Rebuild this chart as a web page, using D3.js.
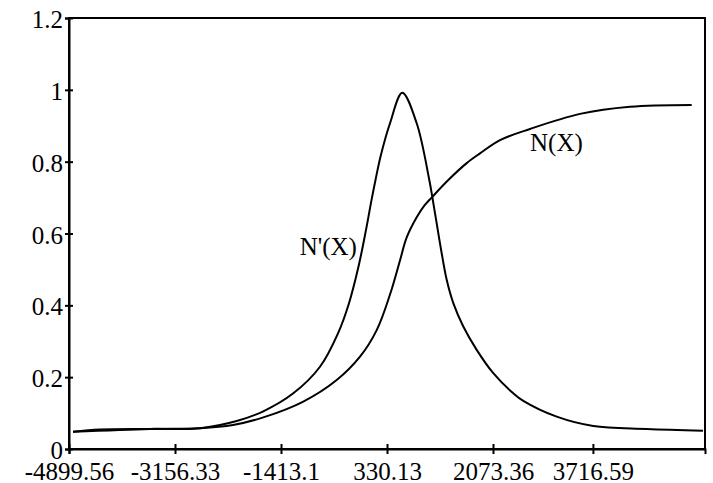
<!DOCTYPE html>
<html>
<head>
<meta charset="utf-8">
<script src="https://cdn.jsdelivr.net/npm/d3@7"></script>
<style>
  body { margin: 0; background: #fff; }
  svg text { font-family: "Liberation Serif", "Times New Roman", Times, serif; font-size: 25px; fill: #000; }
</style>
</head>
<body>
<div id="chart"></div>
<script>
// x tick values shown on the bottom axis
const xTicks = [-4899.56, -3156.33, -1413.1, 330.13, 2073.36, 3716.59];
const xDomain = [-4899.56, 5559.82];
const yTicks = [0, 0.2, 0.4, 0.6, 0.8, 1, 1.2];

// N'(X) - peaked curve
const densX = [-4833.8, -4389.8, -3567.5, -2745.2, -2141.7, -1704.2, -1210.9, -771.8, -475.7, -294.8, -138.6, -15.3, 75.2, 141.0, 223.2, 379.5, 581.8, 818.5, 1025.7, 1075.0, 1147.4, 1229.6, 1311.9, 1420.4, 1584.8, 1805.2, 2078.2, 2407.1, 2571.7, 3121.0, 3722.8, 4601.0, 5526.9];
const densY = [0.048, 0.054, 0.056, 0.058, 0.078, 0.105, 0.155, 0.229, 0.322, 0.406, 0.508, 0.610, 0.693, 0.749, 0.814, 0.907, 0.992, 0.907, 0.749, 0.702, 0.628, 0.545, 0.471, 0.406, 0.341, 0.276, 0.211, 0.155, 0.134, 0.090, 0.064, 0.056, 0.051];

// N(X) - cumulative curve
const cumX = [-4833.8, -3567.5, -2745.2, -2202.5, -1704.2, -1046.4, -497.1, -113.9, 160.8, 379.4, 543.9, 654.1, 818.5, 946.8, 1075.0, 1338.2, 1640.8, 1859.5, 2188.4, 2681.8, 3504.1, 4326.3, 5340.9];
const cumY = [0.048, 0.056, 0.058, 0.067, 0.088, 0.132, 0.192, 0.257, 0.331, 0.430, 0.525, 0.589, 0.645, 0.678, 0.702, 0.749, 0.796, 0.823, 0.860, 0.891, 0.933, 0.953, 0.958];

const labels = [
  { text: "N'(X)", x: -165, y: 0.54, anchor: "end" },
  { text: "N(X)", x: 2682, y: 0.83, anchor: "start" }
];

const width = 713, height = 483;
const margin = { top: 18, right: 8, bottom: 34, left: 69 };
const innerW = width - margin.left - margin.right;
const innerH = height - margin.top - margin.bottom;

const svg = d3.select("#chart").append("svg").attr("width", width).attr("height", height);
const g = svg.append("g").attr("transform", `translate(${margin.left},${margin.top})`);

const x = d3.scaleLinear().domain(xDomain).range([0, innerW]);
const y = d3.scaleLinear().domain([0, 1.2]).range([innerH, 0]);

// frame
g.append("rect")
  .attr("width", innerW)
  .attr("height", innerH)
  .attr("fill", "none")
  .attr("stroke", "#000")
  .attr("stroke-width", 2);

// bottom axis
const xAxis = g.append("g")
  .attr("transform", `translate(0,${innerH})`)
  .call(d3.axisBottom(x).tickValues(xTicks).tickFormat((d) => d).tickSizeOuter(0).tickSize(5).tickPadding(8));
xAxis.selectAll(".tick line").attr("y1", -5).attr("stroke-width", 2);
xAxis.select(".domain").attr("stroke-width", 2);

// left axis
const yAxis = g.append("g")
  .call(d3.axisLeft(y).tickValues(yTicks).tickFormat((d) => d).tickSizeOuter(0).tickSize(4).tickPadding(2));
yAxis.selectAll(".tick line").attr("x1", 4).attr("stroke-width", 2);
yAxis.selectAll(".tick text").attr("dy", "0.38em");
yAxis.select(".domain").attr("stroke-width", 2);

// axis groups carry their own font attributes; drop them so the css applies
svg.selectAll("g").attr("font-family", null).attr("font-size", null);

const line = d3.line()
  .x((d) => x(d[0]))
  .y((d) => y(d[1]))
  .curve(d3.curveCatmullRom.alpha(0.5));

g.append("path")
  .datum(densX.map((v, i) => [v, densY[i]]))
  .attr("d", line)
  .attr("fill", "none")
  .attr("stroke", "#000")
  .attr("stroke-width", 2);

g.append("path")
  .datum(cumX.map((v, i) => [v, cumY[i]]))
  .attr("d", line)
  .attr("fill", "none")
  .attr("stroke", "#000")
  .attr("stroke-width", 2);

g.selectAll(".curve-label")
  .data(labels)
  .join("text")
  .attr("class", "curve-label")
  .attr("x", (d) => x(d.x))
  .attr("y", (d) => y(d.y))
  .attr("text-anchor", (d) => d.anchor)
  .text((d) => d.text);
</script>
</body>
</html>
